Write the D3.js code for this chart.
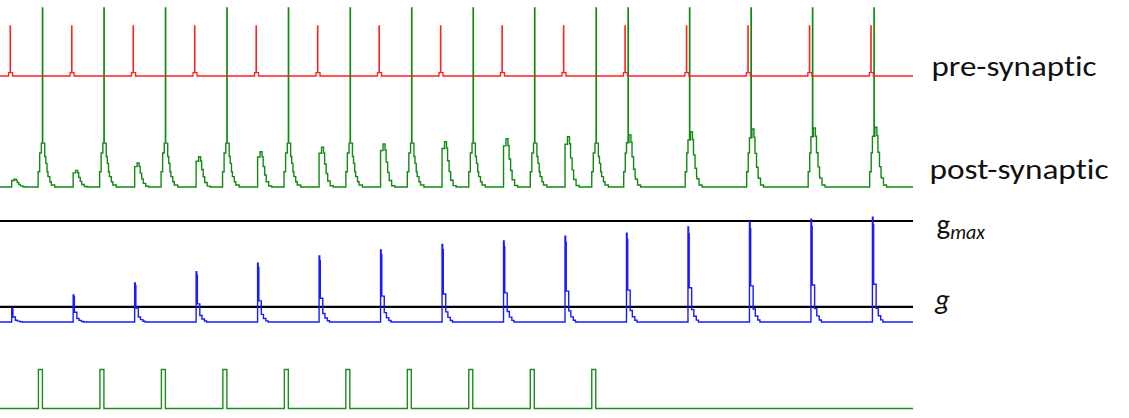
<!DOCTYPE html>
<html>
<head>
<meta charset="utf-8">
<script src="https://cdn.jsdelivr.net/npm/d3@7"></script>
<style>
  html, body { margin: 0; padding: 0; background: #ffffff; }
  svg { display: block; }
  text { font-family: Carlito, Calibri, Lato, "Open Sans", sans-serif; fill: #111;
         font-variant-ligatures: none; font-feature-settings: "liga" 0, "clig" 0, "dlig" 0; }
</style>
</head>
<body>
<svg id="chart" width="1129" height="418"></svg>
<script>
// ---------------- DATA (times in ms) ----------------
const timeExtent = [0, 297];

// pre-synaptic spike times
const preSpikeTimes = [3.3, 23.3, 43.3, 63.3, 83.3, 103.3, 123.3, 143.3, 163.3, 183.3, 203.3, 223.3, 243.3, 263.3, 283.3];

// post-synaptic spike times (first 10 driven by stimulus, last 5 by the synapse)
const postSpikeTimes = [13.8, 33.8, 53.8, 73.8, 93.8, 113.9, 133.9, 153.9, 173.9, 193.9, 204.3, 224.3, 244.3, 264.3, 284.3];

// EPSP amplitude (mV above rest) caused by each pre-synaptic spike
const epspAmplitudes = [4.3, 9.3, 13.4, 16.9, 19.7, 22.2, 24.0, 25.3, 27.0, 28.1, 29.1, 30.9, 32.4, 33.0, 33.4];

// synaptic conductance peak after each pre-synaptic spike (fraction of g_max)
const gPeaks = [0.139, 0.267, 0.386, 0.498, 0.581, 0.653, 0.713, 0.769, 0.802, 0.85, 0.878, 0.941, 0.993, 1.017, 1.037];

// reference levels of the conductance panel
const gMaxLevel = 1.0;
const gLevel = 0.15;

// stimulus pulse onsets to the post-synaptic cell
const stimOnsets = [12.5, 32.5, 52.5, 72.5, 92.5, 112.5, 132.5, 152.5, 172.5, 192.5];

// membrane potential levels (mV)
const restPotential = -70;
const spikePeak = 30;

// waveform shapes: [time offset (ms), value]
const preSpikeKernel = [[-0.5, 6.6], [0, 100], [0.1, 6.6], [0.8, 0]];
const epspKernel = [[0.5, 0.85], [1.3, 1], [1.95, 0.86], [2.3, 0.58], [2.8, 0.34], [3.3, 0.15], [4.1, 0.03], [5.1, 0]];
const apKernel = [[-1.4, 8.5], [-0.9, 19], [-0.35, 24.5], [0, 100], [0.1, 24.5], [0.75, 17], [1.1, 13.2], [1.5, 8.5], [1.8, 5.8], [2.4, 2.9], [2.9, 1.1], [4.0, 0]];
const gKernel = [[0.5, 1], [0.7, 0.93], [0.9, 0.36], [1.7, 0.13], [2.4, 0.06], [3.2, 0.02], [3.9, 0]];
const stimKernel = [[0, 1], [1.3, 0]];

// labels
const labels = ["pre-synaptic", "post-synaptic"];

// ---------------- DRAWING ----------------
const svg = d3.select("#chart");

const x = d3.scaleLinear().domain(timeExtent).range([0, 913]);
const yPre = d3.scaleLinear().domain([restPotential, spikePeak]).range([76, 26]);
const yPost = d3.scaleLinear().domain([restPotential, spikePeak]).range([187, 8]);
const yG = d3.scaleLinear().domain([0, gMaxLevel]).range([322, 221]);
const yStim = d3.scaleLinear().domain([0, 1]).range([408.5, 369.5]);

function kernelAt(e, t) {
  const r = t - e.t0;
  if (r < e.kernel[0][0] - 1e-9) return 0;
  let val = 0;
  for (const [dt, v] of e.kernel) {
    if (r >= dt - 1e-9) val = v; else break;
  }
  return val * e.amp;
}

function buildTrace(events) {
  const bps = new Set([timeExtent[0], timeExtent[1]]);
  events.forEach(e => e.kernel.forEach(([dt]) => bps.add(+(e.t0 + dt).toFixed(4))));
  const ts = [...bps].filter(t => t >= timeExtent[0] && t <= timeExtent[1]).sort((a, b) => a - b);
  return ts.map(t => ({ t, v: d3.max(events, e => kernelAt(e, t)) || 0 }));
}

const preEvents = preSpikeTimes.map(t0 => ({ t0, amp: 1, kernel: preSpikeKernel }));
const postEvents = preSpikeTimes.map((t0, i) => ({ t0, amp: epspAmplitudes[i], kernel: epspKernel }))
  .concat(postSpikeTimes.map(t0 => ({ t0, amp: 1, kernel: apKernel })));
const gEvents = preSpikeTimes.map((t0, i) => ({ t0, amp: gPeaks[i], kernel: gKernel }));
const stimEvents = stimOnsets.map(t0 => ({ t0, amp: 1, kernel: stimKernel }));

function drawTrace(data, yScale, offset, color, width) {
  const line = d3.line()
    .x(d => x(d.t))
    .y(d => yScale(offset + d.v))
    .curve(d3.curveStepAfter);
  svg.append("path")
    .datum(data)
    .attr("d", line)
    .attr("fill", "none")
    .attr("stroke", color)
    .attr("stroke-width", width)
    .attr("stroke-linejoin", "miter");
}

// reference lines
[gMaxLevel, gLevel].forEach(level => {
  svg.append("line")
    .attr("x1", x(timeExtent[0])).attr("x2", x(timeExtent[1]))
    .attr("y1", yG(level)).attr("y2", yG(level))
    .attr("stroke", "#000").attr("stroke-width", 2.2);
});

drawTrace(buildTrace(gEvents), yG, 0, "#1a1aff", 1.4);
drawTrace(buildTrace(stimEvents), yStim, 0, "#1e8c1e", 1.4);
drawTrace(buildTrace(postEvents), yPost, restPotential, "#118a11", 1.4);
drawTrace(buildTrace(preEvents), yPre, restPotential, "#ff2020", 1.3);

// labels
const fontSize = 29;
svg.append("text").attr("x", 931.5).attr("y", 76)
  .attr("font-size", fontSize).attr("textLength", 165).attr("lengthAdjust", "spacingAndGlyphs")
  .text(labels[0]);
svg.append("text").attr("x", 929.5).attr("y", 179)
  .attr("font-size", fontSize).attr("textLength", 179).attr("lengthAdjust", "spacingAndGlyphs")
  .text(labels[1]);

const gmax = svg.append("text").attr("x", 936.5).attr("y", 234).attr("font-size", fontSize);
gmax.append("tspan").text("g");
gmax.append("tspan").attr("font-size", 20).attr("font-style", "italic").attr("dy", 5).text("max");

svg.append("text").attr("x", 935).attr("y", 309)
  .attr("font-size", fontSize).attr("font-style", "italic").text("g");
</script>
</body>
</html>
